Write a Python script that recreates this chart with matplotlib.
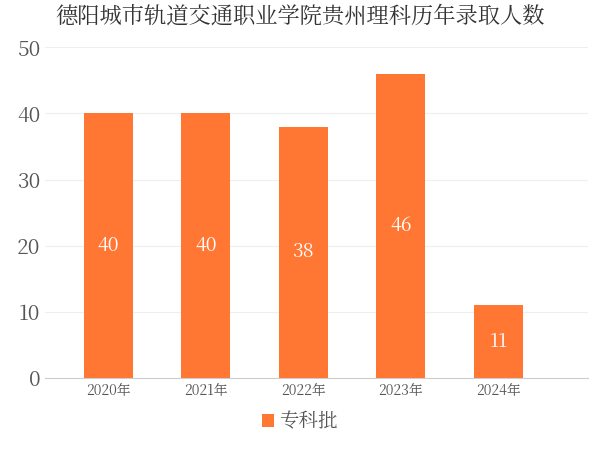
import matplotlib.pyplot as plt
import matplotlib as mpl
from matplotlib import font_manager

cjk = [f.name for f in font_manager.fontManager.ttflist if 'CJK' in f.name]
mpl.rcParams['font.family'] = (['Noto Sans CJK SC'] if 'Noto Sans CJK SC' in cjk else cjk[:1]) + ['DejaVu Sans']

years = ['2020年', '2021年', '2022年', '2023年', '2024年']
values = [40, 40, 38, 46, 11]
series_name = '专科批'
title = '德阳城市轨道交通职业学院贵州理科历年录取人数'

fig = plt.figure(figsize=(6, 4.5), dpi=100)
ax = fig.add_axes([0.075, 0.16, 0.905, 0.735])
color = '#ff7733'
bars = ax.bar(range(len(years)), values, width=0.5, color=color, label=series_name)
for i, v in enumerate(values):
    ax.text(i, v / 2, str(v), ha='center', va='center', color='white', fontsize=14)

ax.set_xlim(-0.65, 4.92)
ax.set_ylim(0, 50)
ax.set_yticks(range(0, 51, 10))
ax.set_xticks(range(len(years)))
ax.set_xticklabels(years, fontsize=10, color='#555555')
ax.tick_params(axis='y', labelsize=15, colors='#555555', length=0)
ax.tick_params(axis='x', length=0)
ax.grid(axis='y', color='#eeeeee', linewidth=0.8)
ax.set_axisbelow(True)
for s in ['top', 'right', 'left']:
    ax.spines[s].set_visible(False)
ax.spines['bottom'].set_color('#cccccc')

fig.suptitle(title, fontsize=16, color='#333333', y=0.99)
fig.legend(handles=[bars], labels=[series_name], loc='lower center', bbox_to_anchor=(0.5, 0.0),
           frameon=False, fontsize=14, handlelength=0.6, handleheight=0.6, handletextpad=0.3,
           labelcolor='#555555')

fig.savefig('out.png')
